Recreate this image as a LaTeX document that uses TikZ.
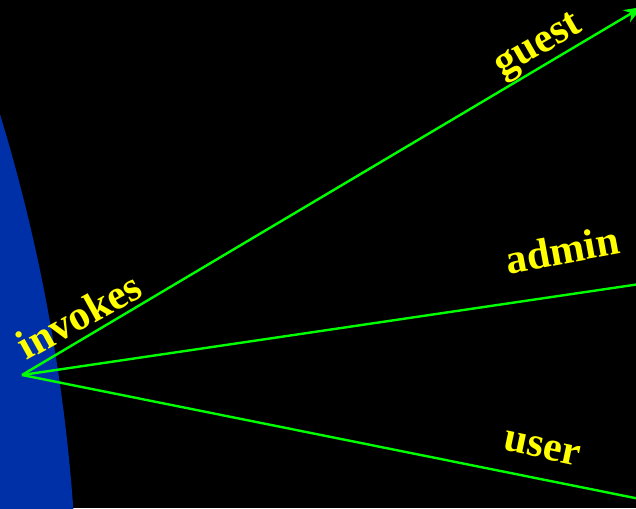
\documentclass[tikz,border=0pt]{standalone}
\usepackage{fontspec}
\setmainfont{Liberation Serif}
\usetikzlibrary{arrows.meta}
\definecolor{bgblue}{RGB}{0,48,168}
\definecolor{lgreen}{RGB}{0,255,0}
\definecolor{lyellow}{RGB}{255,255,0}
\tikzset{
  conn/.style={draw=lgreen, line width=2.4pt},
  lbl/.style={text=lyellow, font=\fontsize{42}{42}\selectfont\bfseries, inner sep=0pt, anchor=base}
}
\begin{document}
\begin{tikzpicture}[x=1pt,y=1pt]
\useasboundingbox (0,0) rectangle (636,508);
\clip (0,0) rectangle (636,508);
\fill[black] (0,0) rectangle (636,508);
\fill[bgblue] (-1722,-132) circle[radius=1800];
\coordinate (src) at (22,133);
\coordinate (g) at (642,501);
\coordinate (a) at (640,224);
\coordinate (u) at (640,9);
\draw[conn, -{Stealth[length=18pt,width=14pt]}] (src) -- (g);
\draw[conn] (src) -- (a);
\draw[conn] (src) -- (u);
\node[lbl, rotate=30] (tg) at (543,454) {guest};
\node[lbl, rotate=10.5] (ta) at (565,244) {admin};
\node[lbl, rotate=-12] (tu) at (540,50) {user};
\node[lbl, rotate=29] (ti) at (86,180) {invokes};
\end{tikzpicture}
\end{document}
